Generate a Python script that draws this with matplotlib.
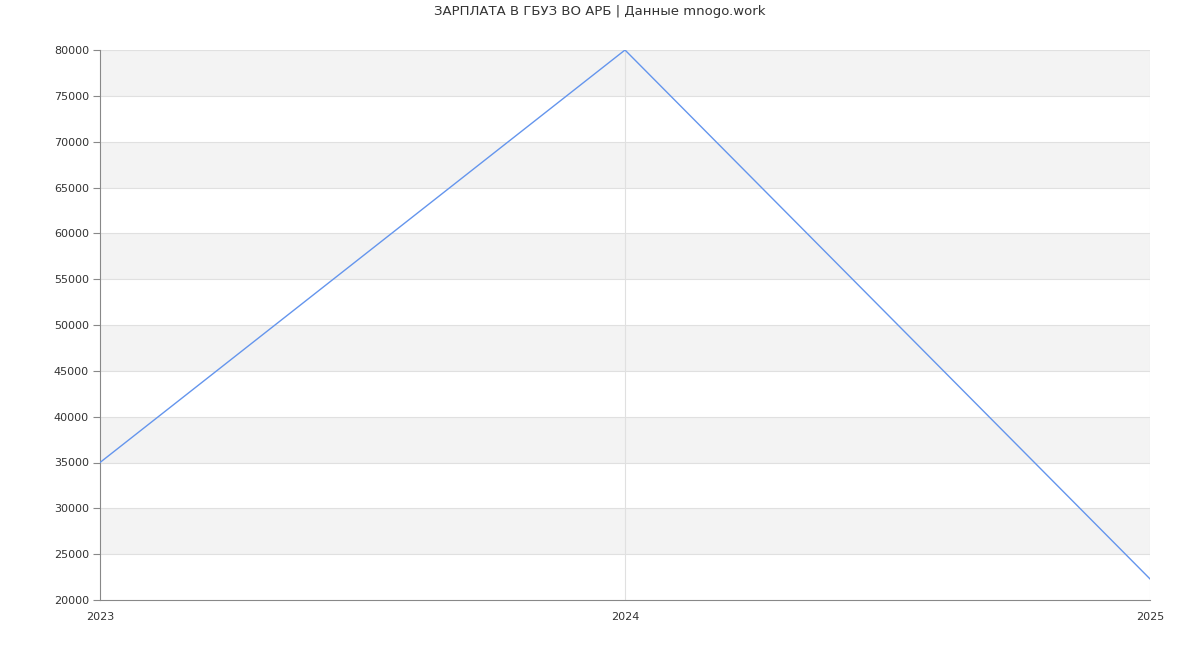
import matplotlib.pyplot as plt

years = [2023, 2024, 2025]
salary = [35000, 80000, 22300]
y_ticks = list(range(20000, 80001, 5000))
title = "ЗАРПЛАТА В ГБУЗ ВО АРБ | Данные mnogo.work"

fig = plt.figure(figsize=(12, 6.5), dpi=100)
ax = fig.add_axes([100 / 1200, 50 / 650, 1050 / 1200, 550 / 650])

# alternating bands
for i, lo in enumerate(y_ticks[:-1]):
    if i % 2 == 1:
        ax.axhspan(lo, lo + 5000, color="#f3f3f3", zorder=0, lw=0)
for t in y_ticks[1:]:
    ax.axhline(t, color="#e0e0e0", lw=0.8, zorder=1)
ax.axvline(2024, color="#e0e0e0", lw=0.8, zorder=1)
ax.axvline(2025, color="#e0e0e0", lw=0.8, zorder=1)

ax.plot(years, salary, color="#6495ED", lw=1.0, zorder=3)

ax.set_xlim(2023, 2025)
ax.set_ylim(20000, 80000)
ax.set_yticks(y_ticks)
ax.set_xticks(years)
ax.set_xticklabels([str(y) for y in years])
ax.tick_params(axis="y", length=5, color="#888888", labelsize=8, labelcolor="#333333", pad=3)
ax.tick_params(axis="x", length=0, labelsize=8, labelcolor="#333333", pad=9)
for lab in ax.get_xticklabels():
    lab.set_x(lab.get_position()[0])

for s in ["top", "right"]:
    ax.spines[s].set_visible(False)
for s in ["left", "bottom"]:
    ax.spines[s].set_color("#888888")
    ax.spines[s].set_linewidth(0.8)

fig.text(0.5, 1 - 12 / 650, title, ha="center", va="center", fontsize=9.5, color="#333333")

fig.savefig("out.png", dpi=100, facecolor="white")
